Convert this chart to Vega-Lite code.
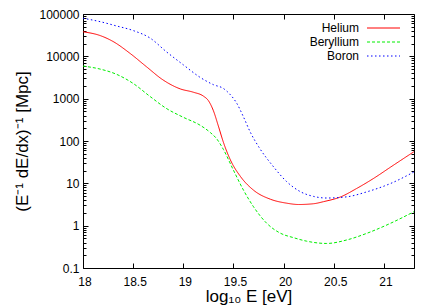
{
  "$schema": "https://vega.github.io/schema/vega-lite/v6.json",
  "width": 331,
  "height": 254,
  "autosize": {"type": "none"},
  "padding": {"left": 83, "top": 14, "right": 21, "bottom": 37},
  "config": {
    "font": "Liberation Sans",
    "view": {"stroke": "#000000", "strokeWidth": 1},
    "axis": {"grid": false, "domain": false, "labelColor": "#000000", "tickColor": "#000000", "titleColor": "#000000", "labelFont": "Liberation Sans", "titleFont": "Liberation Sans", "labelFontSize": 12, "titleFontWeight": "normal"},
    "legend": {"padding": 0}
  },
  "data": {
    "values": [
      {"series": "Helium", "x": 18.0, "y": 38000},
      {"series": "Helium", "x": 18.17, "y": 31000},
      {"series": "Helium", "x": 18.3, "y": 22400},
      {"series": "Helium", "x": 18.47, "y": 11700},
      {"series": "Helium", "x": 18.63, "y": 5750},
      {"series": "Helium", "x": 18.8, "y": 2750},
      {"series": "Helium", "x": 18.97, "y": 1700},
      {"series": "Helium", "x": 19.1, "y": 1420},
      {"series": "Helium", "x": 19.2, "y": 1150},
      {"series": "Helium", "x": 19.25, "y": 900},
      {"series": "Helium", "x": 19.3, "y": 520},
      {"series": "Helium", "x": 19.35, "y": 224},
      {"series": "Helium", "x": 19.4, "y": 93},
      {"series": "Helium", "x": 19.47, "y": 35.5},
      {"series": "Helium", "x": 19.57, "y": 14.5},
      {"series": "Helium", "x": 19.7, "y": 6.9},
      {"series": "Helium", "x": 19.87, "y": 4.2},
      {"series": "Helium", "x": 20.03, "y": 3.4},
      {"series": "Helium", "x": 20.15, "y": 3.16},
      {"series": "Helium", "x": 20.3, "y": 3.3},
      {"series": "Helium", "x": 20.4, "y": 3.7},
      {"series": "Helium", "x": 20.57, "y": 4.8},
      {"series": "Helium", "x": 20.73, "y": 7.6},
      {"series": "Helium", "x": 20.9, "y": 13.2},
      {"series": "Helium", "x": 21.07, "y": 24.5},
      {"series": "Helium", "x": 21.3, "y": 56},
      {"series": "Beryllium", "x": 18.0, "y": 5900},
      {"series": "Beryllium", "x": 18.17, "y": 5000},
      {"series": "Beryllium", "x": 18.33, "y": 3800},
      {"series": "Beryllium", "x": 18.5, "y": 2290},
      {"series": "Beryllium", "x": 18.67, "y": 1120},
      {"series": "Beryllium", "x": 18.83, "y": 590},
      {"series": "Beryllium", "x": 19.0, "y": 363},
      {"series": "Beryllium", "x": 19.17, "y": 234},
      {"series": "Beryllium", "x": 19.27, "y": 158},
      {"series": "Beryllium", "x": 19.33, "y": 115},
      {"series": "Beryllium", "x": 19.4, "y": 63},
      {"series": "Beryllium", "x": 19.5, "y": 20.4},
      {"series": "Beryllium", "x": 19.6, "y": 6.9},
      {"series": "Beryllium", "x": 19.7, "y": 2.8},
      {"series": "Beryllium", "x": 19.83, "y": 1.15},
      {"series": "Beryllium", "x": 19.97, "y": 0.66},
      {"series": "Beryllium", "x": 20.1, "y": 0.52},
      {"series": "Beryllium", "x": 20.23, "y": 0.43},
      {"series": "Beryllium", "x": 20.43, "y": 0.38},
      {"series": "Beryllium", "x": 20.63, "y": 0.46},
      {"series": "Beryllium", "x": 20.83, "y": 0.66},
      {"series": "Beryllium", "x": 21.07, "y": 1.15},
      {"series": "Beryllium", "x": 21.3, "y": 2.14},
      {"series": "Boron", "x": 18.0, "y": 79400},
      {"series": "Boron", "x": 18.17, "y": 66000},
      {"series": "Boron", "x": 18.33, "y": 52500},
      {"series": "Boron", "x": 18.5, "y": 40700},
      {"series": "Boron", "x": 18.67, "y": 26900},
      {"series": "Boron", "x": 18.83, "y": 12900},
      {"series": "Boron", "x": 19.0, "y": 6300},
      {"series": "Boron", "x": 19.17, "y": 3160},
      {"series": "Boron", "x": 19.3, "y": 2140},
      {"series": "Boron", "x": 19.4, "y": 1740},
      {"series": "Boron", "x": 19.47, "y": 1230},
      {"series": "Boron", "x": 19.53, "y": 800},
      {"series": "Boron", "x": 19.6, "y": 370},
      {"series": "Boron", "x": 19.67, "y": 158},
      {"series": "Boron", "x": 19.75, "y": 74},
      {"series": "Boron", "x": 19.9, "y": 24.5},
      {"series": "Boron", "x": 20.03, "y": 11},
      {"series": "Boron", "x": 20.17, "y": 6.3},
      {"series": "Boron", "x": 20.3, "y": 4.9},
      {"series": "Boron", "x": 20.43, "y": 4.5},
      {"series": "Boron", "x": 20.63, "y": 4.8},
      {"series": "Boron", "x": 20.83, "y": 6.3},
      {"series": "Boron", "x": 21.07, "y": 10},
      {"series": "Boron", "x": 21.3, "y": 18.6}
    ]
  },
  "layer": [
    {
      "mark": {"type": "line", "strokeWidth": 1, "interpolate": "monotone", "clip": true},
      "encoding": {
        "x": {
          "field": "x", "type": "quantitative",
          "scale": {"domain": [18, 21.3], "nice": false, "zero": false},
          "axis": {
            "orient": "bottom",
            "values": [18, 18.5, 19, 19.5, 20, 20.5, 21],
            "format": "~g",
            "tickSize": -5,
            "labelPadding": 13,
            "labelFlush": false,
            "labelOverlap": false,
            "labelOffset": 1.5,
            "title": "log₁₀ E [eV]",
            "titleFontSize": 17,
            "titlePadding": 1
          }
        },
        "y": {
          "field": "y", "type": "quantitative",
          "scale": {"type": "log", "domain": [0.1, 100000], "nice": false},
          "axis": {
            "orient": "left",
            "values": [0.1, 0.2, 0.3, 0.4, 0.5, 0.6, 0.7, 0.8, 0.9, 1, 2, 3, 4, 5, 6, 7, 8, 9, 10, 20, 30, 40, 50, 60, 70, 80, 90, 100, 200, 300, 400, 500, 600, 700, 800, 900, 1000, 2000, 3000, 4000, 5000, 6000, 7000, 8000, 9000, 10000, 20000, 30000, 40000, 50000, 60000, 70000, 80000, 90000, 100000],
            "tickSize": {"condition": {"test": "abs(log(datum.value)/LN10 - round(log(datum.value)/LN10)) < 0.000001", "value": -5}, "value": -3},
            "labelExpr": "abs(log(datum.value)/LN10 - round(log(datum.value)/LN10)) < 0.000001 ? format(datum.value, '~g') : ''",
            "labelPadding": 9,
            "labelOverlap": false,
            "labelFlush": false,
            "title": "(E⁻¹ dE/dx)⁻¹ [Mpc]",
            "titleFontSize": 17,
            "titlePadding": 7
          }
        },
        "color": {
          "field": "series", "type": "nominal",
          "scale": {"domain": ["Helium", "Beryllium", "Boron"], "range": ["#ff0000", "#00ee00", "#0000ff"]},
          "legend": {
            "title": null,
            "orient": "none",
            "legendX": 276,
            "legendY": 8,
            "symbolType": "M-3.3,0H3.3",
            "symbolSize": 100,
            "symbolStrokeWidth": 1,
            "rowPadding": 2,
            "labelFontSize": 12,
            "labelFont": "Liberation Sans",
            "labelColor": "#000000",
            "labelLimit": 200,
            "encode": {
              "labels": {"update": {"x": {"value": 0}, "align": {"value": "right"}}},
              "symbols": {"update": {"x": {"value": 24.5}}}
            }
          }
        },
        "strokeDash": {
          "field": "series", "type": "nominal",
          "scale": {"domain": ["Helium", "Beryllium", "Boron"], "range": [[1, 0], [3, 2], [1.5, 2.5]]},
          "legend": {
            "title": null,
            "orient": "none",
            "legendX": 276,
            "legendY": 8,
            "symbolType": "M-3.3,0H3.3",
            "symbolSize": 100,
            "symbolStrokeWidth": 1,
            "rowPadding": 2,
            "labelFontSize": 12,
            "labelFont": "Liberation Sans",
            "labelColor": "#000000",
            "labelLimit": 200,
            "encode": {
              "labels": {"update": {"x": {"value": 0}, "align": {"value": "right"}}},
              "symbols": {"update": {"x": {"value": 24.5}}}
            }
          }
        }
      }
    },
    {
      "mark": {"type": "line", "opacity": 0},
      "encoding": {
        "x": {
          "field": "x", "type": "quantitative",
          "scale": {"domain": [18, 21.3], "nice": false, "zero": false},
          "axis": {"orient": "top", "values": [18, 18.5, 19, 19.5, 20, 20.5, 21], "tickSize": -5, "labels": false, "title": null}
        },
        "y": {
          "field": "y", "type": "quantitative",
          "scale": {"type": "log", "domain": [0.1, 100000], "nice": false},
          "axis": {
            "orient": "right",
            "values": [0.1, 0.2, 0.3, 0.4, 0.5, 0.6, 0.7, 0.8, 0.9, 1, 2, 3, 4, 5, 6, 7, 8, 9, 10, 20, 30, 40, 50, 60, 70, 80, 90, 100, 200, 300, 400, 500, 600, 700, 800, 900, 1000, 2000, 3000, 4000, 5000, 6000, 7000, 8000, 9000, 10000, 20000, 30000, 40000, 50000, 60000, 70000, 80000, 90000, 100000],
            "tickSize": {"condition": {"test": "abs(log(datum.value)/LN10 - round(log(datum.value)/LN10)) < 0.000001", "value": -5}, "value": -3},
            "labels": false,
            "title": null
          }
        }
      }
    }
  ],
  "resolve": {"axis": {"x": "independent", "y": "independent"}}
}
